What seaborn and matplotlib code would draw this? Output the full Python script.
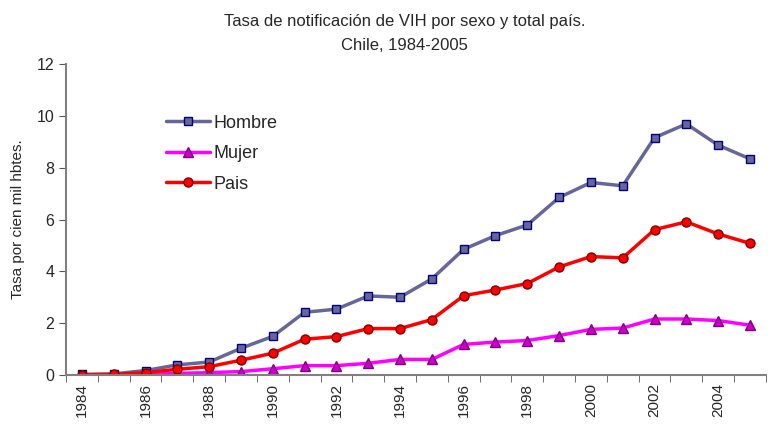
import numpy as np
import pandas as pd
import matplotlib
matplotlib.use("Agg")
import matplotlib.pyplot as plt
import seaborn as sns

years = list(range(1984, 2006))
hombre = [0.02, 0.04, 0.17, 0.39, 0.50, 1.03, 1.49, 2.42, 2.54, 3.05, 3.00,
          3.71, 4.85, 5.38, 5.79, 6.85, 7.43, 7.30, 9.16, 9.69, 8.87, 8.34]
mujer = [0.0, 0.0, 0.02, 0.06, 0.09, 0.13, 0.24, 0.36, 0.36, 0.45, 0.60,
         0.60, 1.18, 1.27, 1.33, 1.52, 1.76, 1.81, 2.16, 2.16, 2.10, 1.92]
pais = [0.01, 0.02, 0.09, 0.22, 0.32, 0.57, 0.84, 1.38, 1.48, 1.79, 1.79,
        2.14, 3.06, 3.28, 3.53, 4.17, 4.57, 4.52, 5.61, 5.91, 5.44, 5.08]
series = ["Hombre", "Mujer", "Pais"]

df = pd.DataFrame({
    "year": years * 3,
    "tasa": hombre + mujer + pais,
    "serie": ["Hombre"] * len(years) + ["Mujer"] * len(years) + ["Pais"] * len(years),
})

sns.set_style("white")
plt.rcParams["font.family"] = ["Liberation Sans", "DejaVu Sans"]

fig = plt.figure(figsize=(7.7, 4.3), dpi=100)
ax = fig.add_axes([0.0857, 0.128, 0.909, 0.723])

# estilo de cada serie (linea, relleno marcador, borde marcador)
estilos = {
    "Hombre": ("#666699", "#666699", "#000080", "s", 6),
    "Mujer": ("#FF00FF", "#CC00CC", "#800080", "^", 7),
    "Pais": ("#FF0000", "#FF0000", "#800000", "o", 6.5),
}
for s in series:
    lc, fc, ec, mk, ms = estilos[s]
    sns.lineplot(data=df[df["serie"] == s], x="year", y="tasa", ax=ax,
                 color=lc, linewidth=2.5, marker=mk, markersize=ms,
                 markerfacecolor=fc, markeredgecolor=ec, markeredgewidth=1,
                 label=s)

ax.set_xlim(1983.5, 2005.5)
ax.set_ylim(0, 12)
ax.set_yticks(np.arange(0, 13, 2))
ax.set_xticks(years[::2])
ax.set_xticklabels([str(y) for y in years[::2]], rotation=90, fontsize=11)
ax.set_xticks(np.arange(1983.5, 2006, 1), minor=True)
ax.tick_params(axis="x", which="major", length=0, pad=6)
ax.tick_params(axis="x", which="minor", length=5, color="#555555", direction="out", bottom=True)
ax.tick_params(axis="y", length=5, color="#555555", direction="out", left=True, labelsize=11.5)

for sp in ["top", "right"]:
    ax.spines[sp].set_visible(False)
for sp in ["left", "bottom"]:
    ax.spines[sp].set_color("#808080")
    ax.spines[sp].set_linewidth(1.5)

ax.set_xlabel("")
ax.set_ylabel("Tasa por cien mil hbtes.", fontsize=11, labelpad=8)
fig.suptitle("Tasa de notificación de VIH por sexo y total país.\nChile, 1984-2005",
             fontsize=12, y=0.968, x=0.525, linespacing=1.75)

ax.legend(loc="upper left", bbox_to_anchor=(0.12, 0.89), frameon=False,
          fontsize=13, handlelength=2.4, labelspacing=0.75, handletextpad=0.2)

fig.savefig("out.png", dpi=100)
